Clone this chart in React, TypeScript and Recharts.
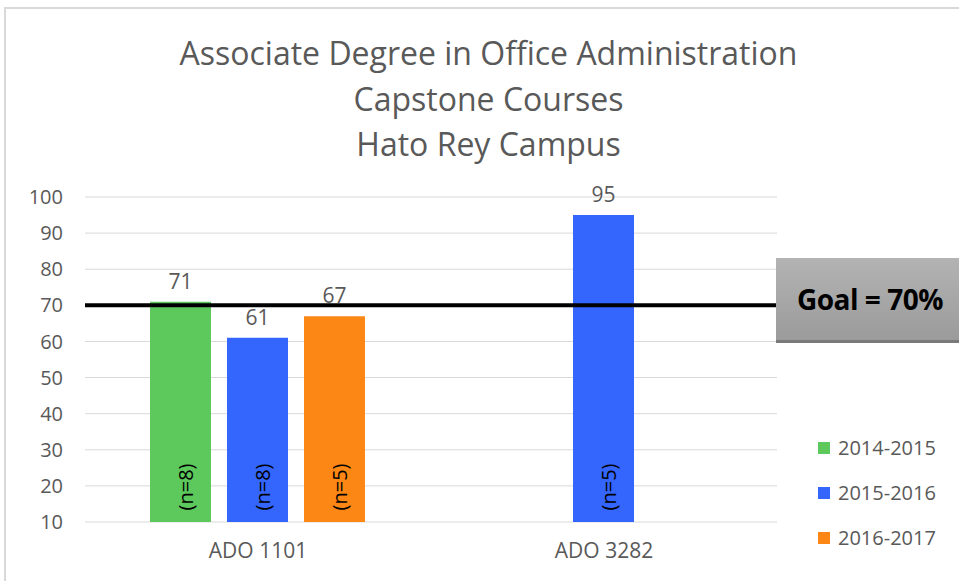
import { BarChart, Bar, XAxis, YAxis, CartesianGrid, ReferenceLine, LabelList, Legend } from "recharts";

const categories = ["ADO 1101", "ADO 3282"];
const seriesNames = ["2014-2015", "2015-2016", "2016-2017"];
const seriesColors = ["#5dc95c", "#3466fd", "#fd8714"];
const scores2014 = [71, null];
const scores2015 = [61, 95];
const scores2016 = [67, null];
const sample2014 = [8, null];
const sample2015 = [8, 5];
const sample2016 = [5, null];
const yTicks = [10, 20, 30, 40, 50, 60, 70, 80, 90, 100];
const goal = 70;
const titleLines = ["Associate Degree in Office Administration", "Capstone Courses", "Hato Rey Campus"];

const FONT = "'Open Sans', Lato, sans-serif";
const GRAY = "#595959";

const data = categories.map((c, i) => ({
  name: c,
  s0: scores2014[i],
  s1: scores2015[i],
  s2: scores2016[i],
  n0: sample2014[i],
  n1: sample2015[i],
  n2: sample2016[i],
}));

// rotated "(n=..)" inside each bar, near the bottom
const SampleLabel = (props: any) => {
  const { x, y, width, height, value } = props;
  if (value == null) return null;
  const cx = x + width / 2 + 5;
  const cy = y + height - 35;
  return (
    <text
      x={cx}
      y={cy}
      transform={`rotate(-90 ${cx} ${cy})`}
      textAnchor="middle"
      dominantBaseline="central"
      fontSize={20}
      fontFamily={FONT}
      fill="#000"
    >
      {`(n=${value})`}
    </text>
  );
};

const LegendBox = () => (
  <div style={{ fontFamily: FONT }}>
    {seriesNames.map((s, i) => (
      <div key={s} style={{ height: 45, display: "flex", alignItems: "center" }}>
        <span style={{ width: 12, height: 12, background: seriesColors[i], marginRight: 8, display: "inline-block" }} />
        <span style={{ fontSize: 20, color: GRAY }}>{s}</span>
      </div>
    ))}
  </div>
);

export default function App() {
  return (
    <div style={{ position: "absolute", left: 0, top: 0, width: 959, height: 581, overflow: "hidden", background: "#fff" }}>
      <div
        style={{
          position: "absolute",
          left: 4,
          top: 7,
          width: 1000,
          height: 600,
          border: "2px solid #d9d9d9",
          boxSizing: "border-box",
        }}
      />
      <div
        style={{
          position: "absolute",
          left: 0,
          top: 30,
          width: 977,
          textAlign: "center",
          fontFamily: FONT,
          fontSize: 32,
          lineHeight: "45.5px",
          color: GRAY,
        }}
      >
        {titleLines.map((t) => (
          <div key={t}>{t}</div>
        ))}
      </div>
      <div style={{ position: "absolute", left: 0, top: 0 }}>
        <BarChart
          width={959}
          height={581}
          data={data}
          margin={{ top: 197, right: 182, bottom: 29, left: 0 }}
          barCategoryGap={65}
          barGap={16}
        >
          <CartesianGrid vertical={false} stroke="#d9d9d9" strokeWidth={1} />
          <XAxis
            dataKey="name"
            height={30}
            axisLine={false}
            tickLine={false}
            tickSize={0}
            tickMargin={21}
            tick={{ fill: GRAY, fontSize: 21, fontFamily: FONT }}
          />
          <YAxis
            width={85}
            domain={[10, 100]}
            ticks={yTicks}
            axisLine={false}
            tickLine={false}
            tickSize={0}
            tickMargin={22}
            tick={{ fill: GRAY, fontSize: 20, fontFamily: FONT }}
          />
          <Legend
            layout="vertical"
            align="center"
            verticalAlign="middle"
            content={<LegendBox />}
            wrapperStyle={{ left: 818, top: 425, width: 140 }}
          />
          {["s0", "s1", "s2"].map((k, i) => (
            <Bar key={k} dataKey={k} name={seriesNames[i]} fill={seriesColors[i]} isAnimationActive={false}>
              <LabelList dataKey={k} position="top" offset={13} fill={GRAY} fontSize={21} fontFamily={FONT} />
              <LabelList dataKey={`n${i}`} content={<SampleLabel />} />
            </Bar>
          ))}
          <ReferenceLine y={goal} stroke="#000" strokeWidth={4} ifOverflow="extendDomain" />
        </BarChart>
      </div>
      <div
        style={{
          position: "absolute",
          left: 776,
          top: 258,
          width: 200,
          height: 82,
          background: "linear-gradient(#b3b3b3, #9b9b9b)",
          borderBottom: "3px solid #7a7a7a",
          display: "flex",
          alignItems: "center",
          paddingLeft: 21,
          boxSizing: "content-box",
          fontFamily: FONT,
          fontWeight: 700,
          fontSize: 28,
          letterSpacing: -0.5,
          color: "#000",
        }}
      >
        Goal = 70%
      </div>
    </div>
  );
}
